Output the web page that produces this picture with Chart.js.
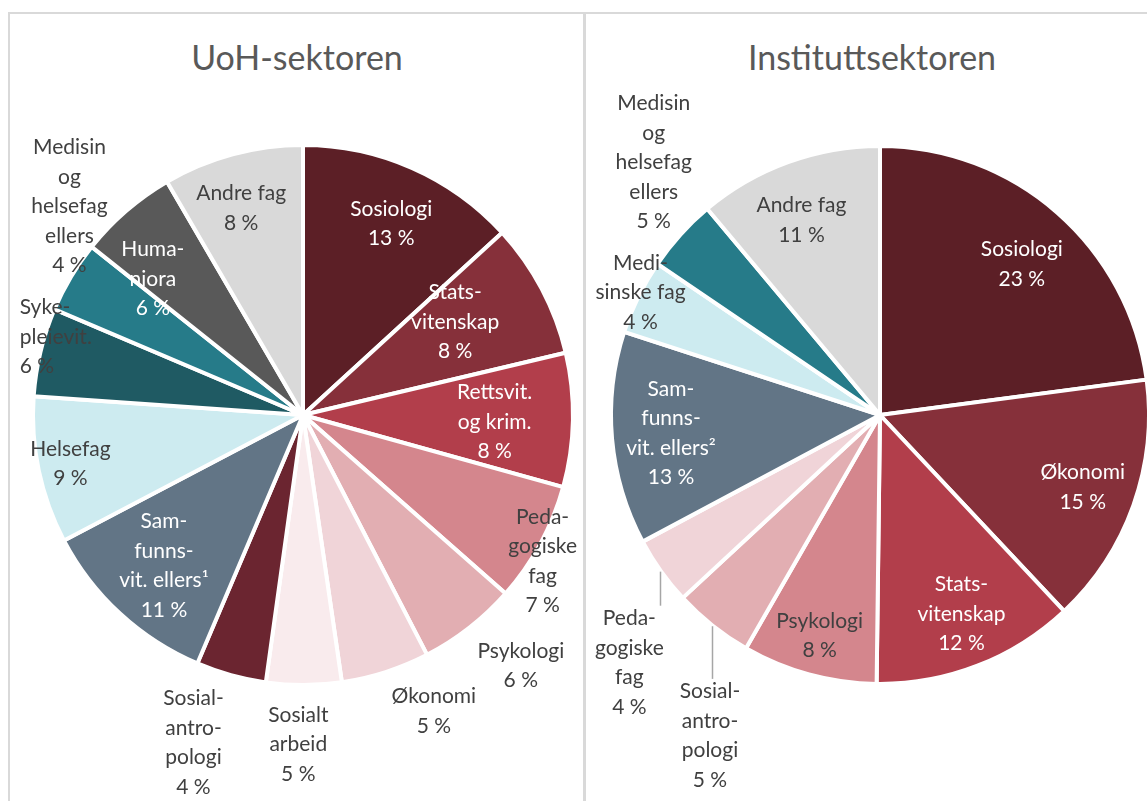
<!DOCTYPE html>
<html><head><meta charset="utf-8">
<script src="https://cdn.jsdelivr.net/npm/chart.js@4.4.0/dist/chart.umd.min.js"></script>
<style>
html,body{margin:0;padding:0;background:#fff;overflow:hidden;width:1147px;height:801px;position:relative}
.fl{position:absolute;background:#d9d9d9}
.title{position:absolute;top:37px;font-family:Lato,"Open Sans",sans-serif;font-size:34px;line-height:40px;color:#595959;text-align:center;width:400px}
canvas{position:absolute;top:0}
</style></head>
<body>
<div class="fl" style="left:8px;top:12px;width:1139px;height:2px"></div>
<div class="fl" style="left:8px;top:12px;width:2px;height:789px"></div>
<div class="fl" style="left:583px;top:12px;width:3px;height:789px"></div>
<div class="title" id="t1" style="left:97px"></div>
<div class="title" id="t2" style="left:672px"></div>
<canvas id="c1" width="584" height="801" style="left:0"></canvas>
<canvas id="c2" width="580" height="801" style="left:586px"></canvas>
<script>
// ---------- data ----------
const titles = ["UoH-sektoren", "Instituttsektoren"];

const uohCategories = [["Sosiologi"],["Stats-","vitenskap"],["Rettsvit.","og krim."],["Peda-","gogiske","fag"],["Psykologi"],["Økonomi"],["Sosialt","arbeid"],["Sosial-","antro-","pologi"],["Sam-","funns-","vit. ellers¹"],["Helsefag"],["Syke-","pleievit."],["Medisin","og","helsefag","ellers"],["Huma-","niora"],["Andre fag"]];
const uohValues = [13.2, 8.1, 8.0, 7.2, 5.9, 5.3, 4.5, 4.2, 10.9, 8.8, 5.3, 4.3, 5.9, 8.4];
const uohPercentLabels = [13, 8, 8, 7, 6, 5, 5, 4, 11, 9, 6, 4, 6, 8];

const instCategories = [["Sosiologi"],["Økonomi"],["Stats-","vitenskap"],["Psykologi"],["Sosial-","antro-","pologi"],["Peda-","gogiske","fag"],["Sam-","funns-","vit. ellers²"],["Medi-","sinske fag"],["Medisin","og","helsefag","ellers"],["Andre fag"]];
const instValues = [22.9, 15.1, 12.2, 8.1, 4.8, 4.1, 12.8, 4.5, 4.4, 11.1];
const instPercentLabels = [23, 15, 12, 8, 5, 4, 13, 4, 5, 11];

// ---------- styles ----------
const C = {soc:"#5c1f26", stat:"#86303a", rett:"#b23e4b", ped:"#d4868d", psy:"#e2aeb2", oko:"#f0d4d8", sa:"#f9ebed", sant:"#6b2530",
           samf:"#627586", hel:"#cdebf0", syk:"#1f5a63", med:"#267b89", hum:"#595959", andre:"#d9d9d9"};
const uohColors = [C.soc,C.stat,C.rett,C.ped,C.psy,C.oko,C.sa,C.sant,C.samf,C.hel,C.syk,C.med,C.hum,C.andre];
const instColors = [C.soc,C.stat,C.rett,C.ped,C.psy,C.oko,C.samf,C.hel,C.med,C.andre];
const W = "#ffffff", D = "#404040";
const uohTextColors = [W,W,W,D,D,D,D,D,W,D,D,D,W,D];
const instTextColors = [W,W,W,D,D,D,W,D,D,D];
// label placement: [radius factor, angle offset (deg), align, leader]
const uohPlace = [[.78,1],[.66,-3.5],[.71,1],[1.04,3],[1.23,-3],[1.2,-6],[1.22,1],[1.28,3],[.76,0],[.88,0],[.96,4,'left'],[1.16,11],[.75,-7],[.8,-1.5]];
const instPlace = [[.77,2],[.8,0],[.8,-1],[.85,0],[1.35,-10.6,'center',true],[1.31,-9.2,'center',true],[.78,0],[1.0,1],[1.26,6],[.78,-2]];

document.getElementById('t1').textContent = titles[0];
document.getElementById('t2').textContent = titles[1];

const sliceLabels = {
  id:'sliceLabels',
  afterDatasetsDraw(chart, args, o){
    const ctx = chart.ctx;
    const meta = chart.getDatasetMeta(0);
    ctx.save();
    ctx.font = o.size + 'px ' + o.family;
    ctx.textBaseline = 'middle';
    meta.data.forEach((arc, i) => {
      const p = arc.getProps(['x','y','startAngle','endAngle','outerRadius'], true);
      const pl = o.place[i];
      const rawMid = (p.startAngle + p.endAngle) / 2;
      const mid = rawMid + pl[1] * Math.PI / 180;
      const r = p.outerRadius * pl[0];
      const cx = p.x + r * Math.cos(mid), cy = p.y + r * Math.sin(mid);
      const lines = chart.data.labels[i].concat([o.pct[i] + ' %']);
      const lh = o.lineHeight;
      const top = cy - lh * lines.length / 2;
      const maxW = Math.max(...lines.map(l => ctx.measureText(l).width));
      ctx.fillStyle = o.colors[i];
      if (pl[2] === 'left') {
        ctx.textAlign = 'left';
        lines.forEach((l, k) => ctx.fillText(l, cx - maxW / 2, top + lh * (k + .5)));
      } else {
        ctx.textAlign = 'center';
        lines.forEach((l, k) => ctx.fillText(l, cx, top + lh * (k + .5)));
      }
      if (pl[3]) {
        const lx = p.x + (p.outerRadius + 1) * Math.cos(rawMid);
        const ly = p.y + (p.outerRadius + 1) * Math.sin(rawMid);
        ctx.strokeStyle = '#a6a6a6';
        ctx.lineWidth = 1.5;
        ctx.beginPath();
        ctx.moveTo(Math.round(lx) + .5, ly);
        ctx.lineTo(Math.round(lx) + .5, top + 2);
        ctx.stroke();
      }
    });
    ctx.restore();
  }
};

function makePie(id, labels, values, colors, textColors, pct, place, padding){
  return new Chart(document.getElementById(id), {
    type: 'pie',
    data: { labels: labels, datasets: [{ data: values, backgroundColor: colors, borderColor: '#ffffff', borderWidth: 4, hoverBorderWidth: 4, hoverOffset: 0 }] },
    options: {
      responsive: false, animation: false, events: [],
      layout: { padding: padding },
      plugins: {
        legend: { display: false }, tooltip: { enabled: false },
        sliceLabels: { family: 'Lato, "Open Sans", sans-serif', size: 21, lineHeight: 29.5, colors: textColors, pct: pct, place: place }
      }
    },
    plugins: [sliceLabels]
  });
}
makePie('c1', uohCategories, uohValues, uohColors, uohTextColors, uohPercentLabels, uohPlace, {left:31, right:9, top:143, bottom:114});
makePie('c2', instCategories, instValues, instColors, instTextColors, instPercentLabels, instPlace, {left:23, right:15, top:144, bottom:115});
</script>
</body></html>
